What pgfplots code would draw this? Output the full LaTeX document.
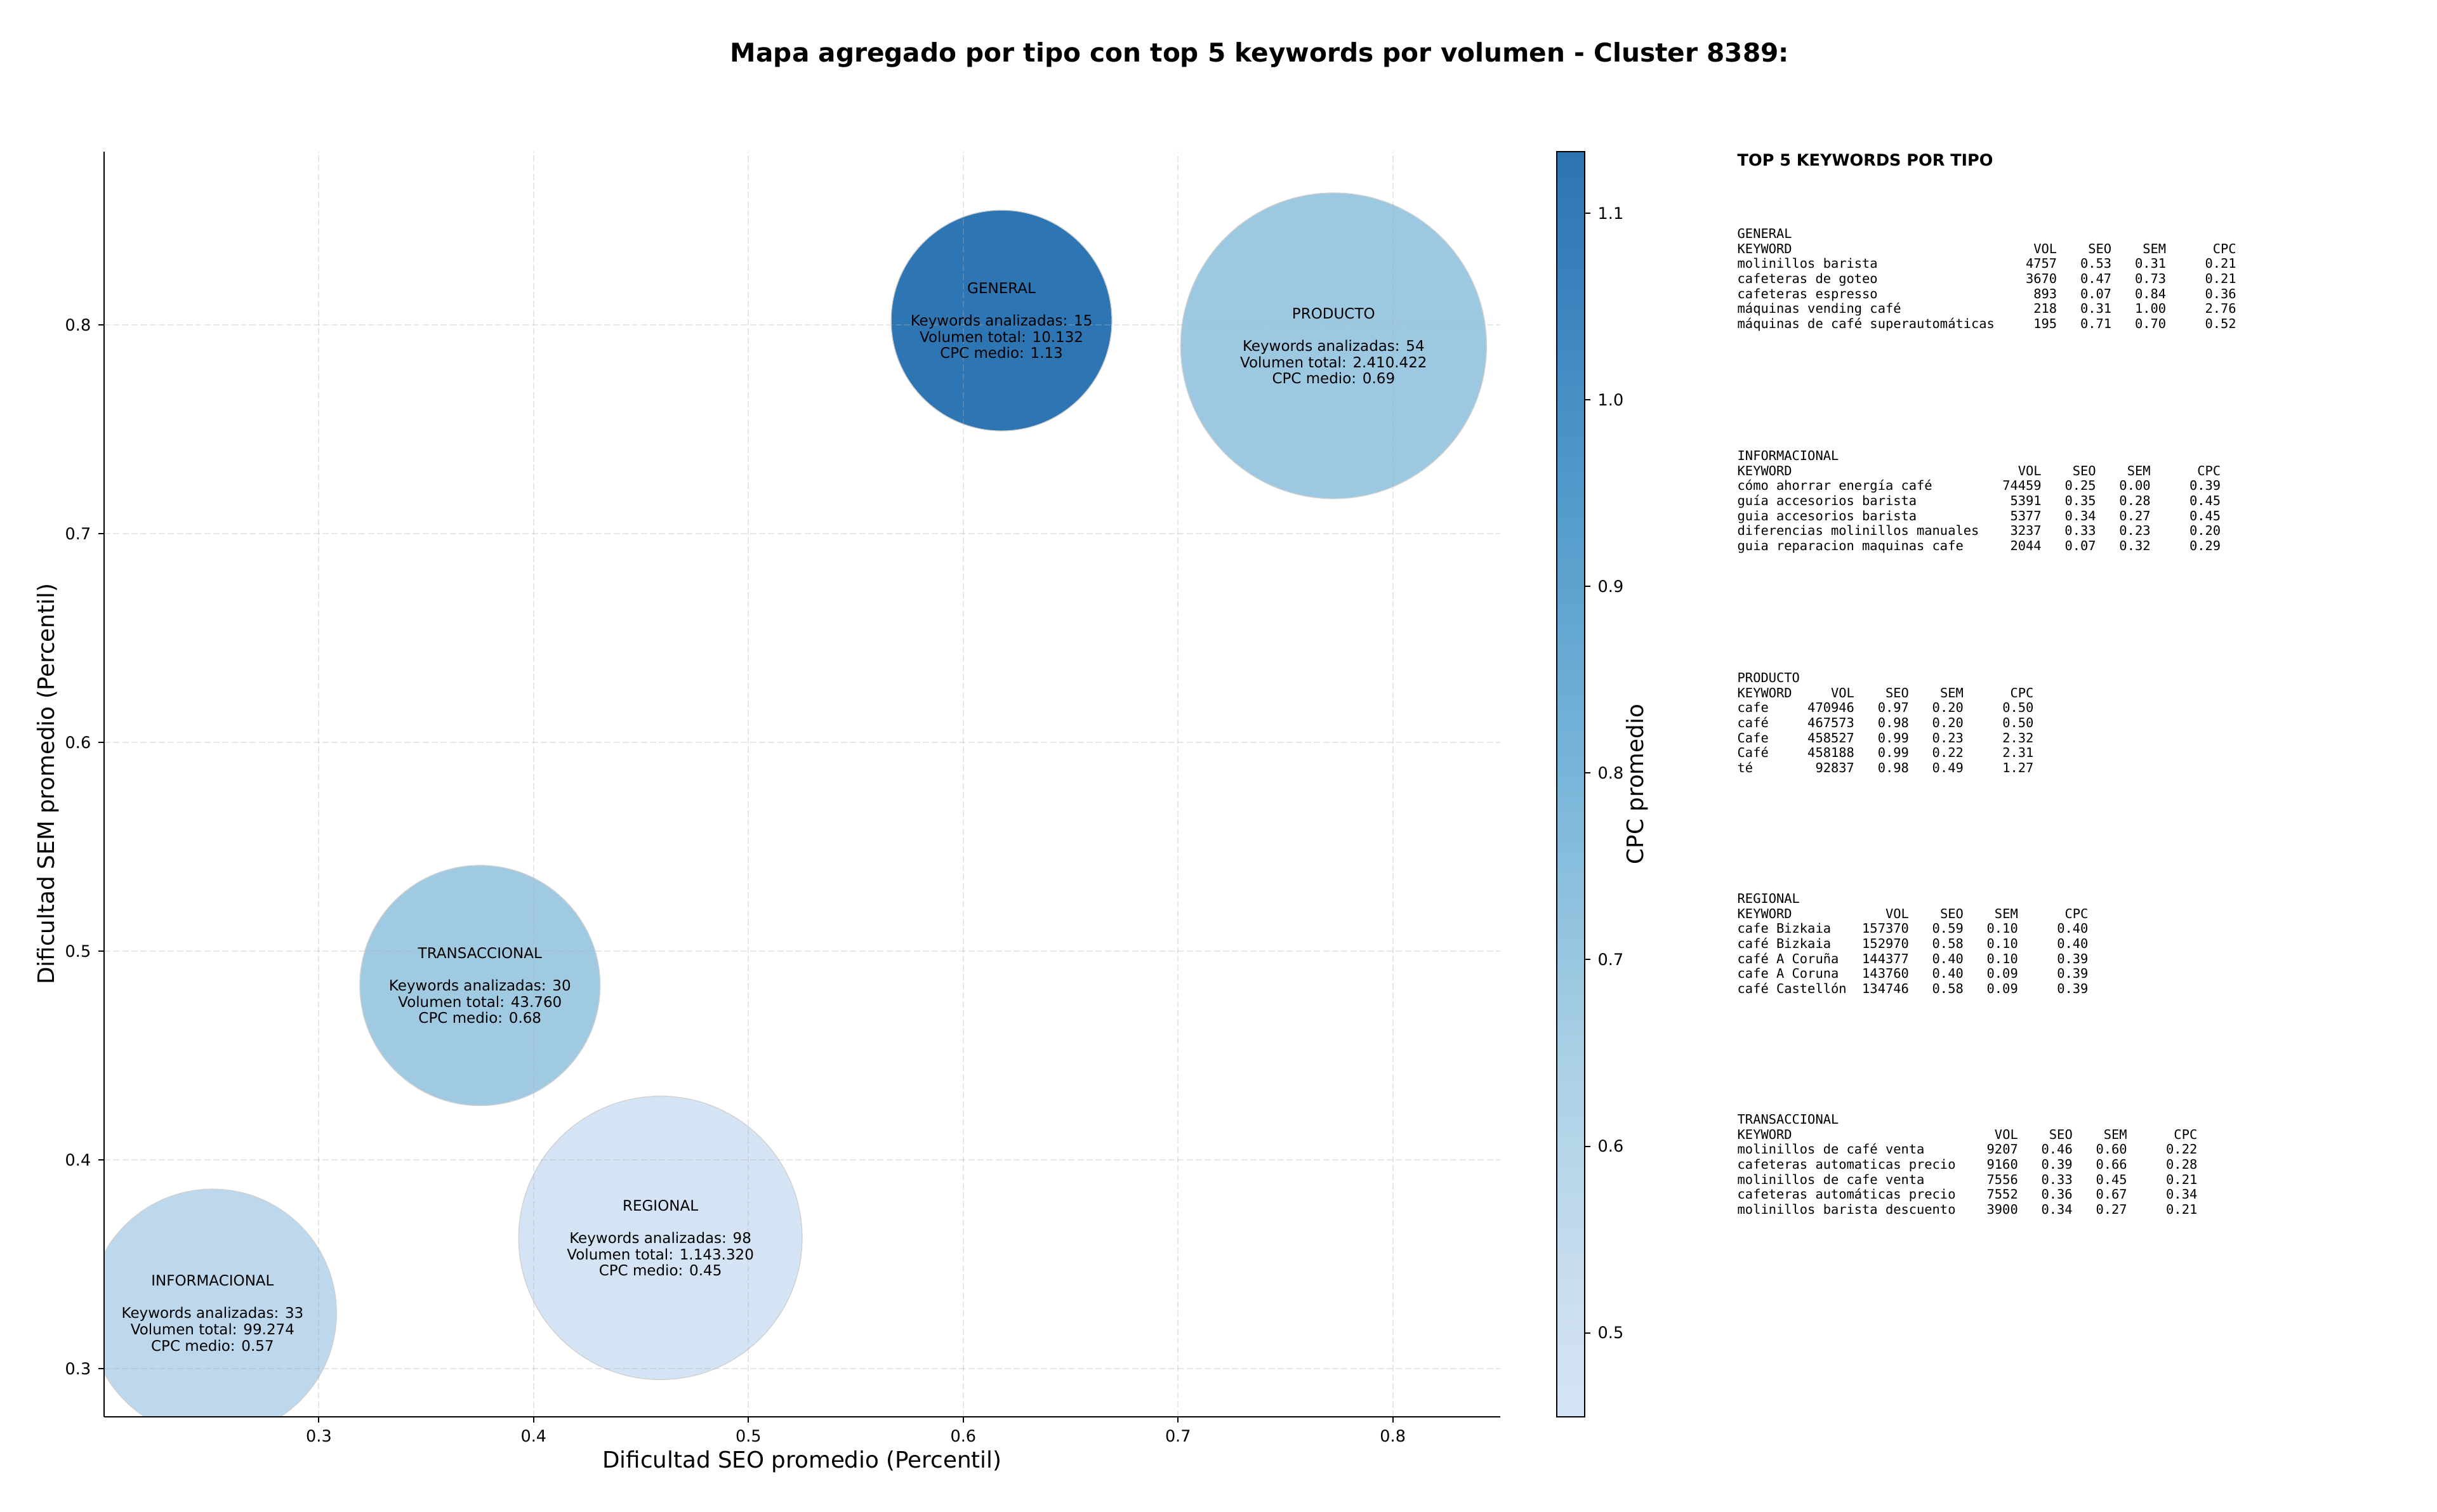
\documentclass[border=0pt]{standalone}
\usepackage{fontspec}
\setmainfont{DejaVu Sans}
\newfontfamily\monofont{DejaVu Sans Mono}
\usepackage{pgfplots}
\usepackage{pgfplotstable}
\pgfplotsset{compat=1.18}

% Blues (0.2..0.8), blended at alpha 0.9 over white
\pgfplotsset{
  colormap={cpcblues}{rgb255(0pt)=(212,228,244) rgb255(10pt)=(204,223,241)
    rgb255(35pt)=(168,207,228) rgb255(60pt)=(122,182,218) rgb255(85pt)=(85,157,204)
    rgb255(110pt)=(55,127,188) rgb255(120pt)=(46,116,179)},
  /pgf/number format/assume math mode=true,
  colorbar shift/.style={xshift=26.7bp},
}

\newcommand\tickfont{\fontsize{7.65bp}{9bp}\selectfont}
\newcommand\labfont{\fontsize{10.7bp}{12.5bp}\selectfont}
\newcommand\bubfont{\fontsize{6.9bp}{7.7bp}\selectfont}
\newcommand\tfont{\monofont\fontsize{6.12bp}{7.1bp}\selectfont}
\newlength\cw
\newcommand\row[6]{\makebox[#1\cw][l]{#2}\makebox[8\cw][r]{#3}\makebox[7\cw][r]{#4}\makebox[7\cw][r]{#5}\makebox[9\cw][r]{#6}}

% tipo, SEO medio, SEM medio, CPC medio, radio de la burbuja (bp)
\pgfplotstableread{
tipo           seo     sem     cpc   r
GENERAL        0.6178  0.8021  1.13  52.2
PRODUCTO       0.7724  0.7900  0.69  72.3
TRANSACCIONAL  0.3750  0.4836  0.68  56.8
REGIONAL       0.4590  0.3627  0.45  67.0
INFORMACIONAL  0.2505  0.3267  0.57  58.6
}\bubbles

\begin{document}
\settowidth{\cw}{\tfont 0}%
\begin{tikzpicture}
\path[use as bounding box] (-49.2bp,-45bp) rectangle (1102.8bp,669.9bp);
\begin{axis}[
  at={(0,0)}, anchor=south west,
  scale only axis, width=660bp, height=598.2bp,
  xmin=0.2, xmax=0.85, ymin=0.277, ymax=0.883,
  axis lines*=left,
  axis line style={-, line width=0.75bp, black},
  axis on top,
  clip marker paths=true,
  xtick={0.3,0.4,0.5,0.6,0.7,0.8},
  ytick={0.3,0.4,0.5,0.6,0.7,0.8},
  tick align=outside, major tick length=2.7bp,
  tick style={black, line width=0.6bp},
  tick label style={font=\tickfont},
  xticklabel style={/pgf/number format/fixed, /pgf/number format/precision=1},
  yticklabel style={/pgf/number format/fixed, /pgf/number format/precision=1},
  grid=major,
  major grid style={line width=0.6bp, color=black!31, opacity=0.3, dash pattern=on 3bp off 1.3bp},
  xlabel={Dificultad SEO promedio (Percentil)},
  ylabel={Dificultad SEM promedio (Percentil)},
  xlabel style={font=\labfont, at={(axis description cs:0.5,-0.0354)}, anchor=center},
  ylabel style={font=\labfont, at={(axis description cs:-0.04,0.5)}, anchor=center},
  colormap name=cpcblues,
  point meta min=0.455, point meta max=1.133,
  colorbar,
  colorbar style={
    at={(parent axis.north east)}, anchor=north west,
    scale only axis, width=13.2bp, height=598.2bp,
    ytick={0.5,0.6,0.7,0.8,0.9,1.0,1.1},
    ytick pos=right, yticklabel pos=right,
    tick align=outside, major tick length=2.7bp,
    tick style={black, line width=0.6bp},
    axis line style={line width=0.6bp, black},
    yticklabel style={font=\tickfont, /pgf/number format/fixed,
      /pgf/number format/precision=1, /pgf/number format/fixed zerofill},
    ylabel={CPC promedio},
    ylabel style={font=\labfont, at={(axis description cs:2.886,0.5)}, anchor=center},
  },
]
\addplot[scatter, only marks, mark=*, point meta=explicit,
  scatter/use mapped color={draw=black!18, fill=mapped color, line width=0.4bp},
  visualization depends on={\thisrow{r} \as \rad},
  scatter/@pre marker code/.append style={/tikz/mark size=\rad bp}]
  table[x=seo, y=sem, meta=cpc] {\bubbles};

\coordinate (cG) at (axis cs:0.6178,0.8021);
\coordinate (cP) at (axis cs:0.7724,0.7900);
\coordinate (cT) at (axis cs:0.3750,0.4836);
\coordinate (cR) at (axis cs:0.4590,0.3627);
\coordinate (cI) at (axis cs:0.2505,0.3267);
\end{axis}

% bubble labels, drawn above the grid
\node[align=center, font=\bubfont] at (cG)
  {GENERAL\\[7.7bp]Keywords analizadas: 15\\Volumen total: 10.132\\CPC medio: 1.13};
\node[align=center, font=\bubfont] at (cP)
  {PRODUCTO\\[7.7bp]Keywords analizadas: 54\\Volumen total: 2.410.422\\CPC medio: 0.69};
\node[align=center, font=\bubfont] at (cT)
  {TRANSACCIONAL\\[7.7bp]Keywords analizadas: 30\\Volumen total: 43.760\\CPC medio: 0.68};
\node[align=center, font=\bubfont] at (cR)
  {REGIONAL\\[7.7bp]Keywords analizadas: 98\\Volumen total: 1.143.320\\CPC medio: 0.45};
\node[align=center, font=\bubfont] at (cI)
  {INFORMACIONAL\\[7.7bp]Keywords analizadas: 33\\Volumen total: 99.274\\CPC medio: 0.57};

\node[anchor=base, font=\bfseries\fontsize{12.2bp}{14bp}\selectfont] at (546.3bp,640.5bp)
  {Mapa agregado por tipo con top 5 keywords por volumen - Cluster 8389:};

\node[anchor=west, inner sep=0pt, font=\bfseries\fontsize{7.65bp}{9bp}\selectfont] at (771.9bp,594.3bp)
  {TOP 5 KEYWORDS POR TIPO};

\node[anchor=north west, inner sep=0pt, align=left, font=\tfont] at (771.9bp,562.0bp) {GENERAL\\
\row{33}{KEYWORD}{VOL}{SEO}{SEM}{CPC}\\
\row{33}{molinillos barista}{4757}{0.53}{0.31}{0.21}\\
\row{33}{cafeteras de goteo}{3670}{0.47}{0.73}{0.21}\\
\row{33}{cafeteras espresso}{893}{0.07}{0.84}{0.36}\\
\row{33}{máquinas vending café}{218}{0.31}{1.00}{2.76}\\
\row{33}{máquinas de café superautomáticas}{195}{0.71}{0.70}{0.52}};

\node[anchor=north west, inner sep=0pt, align=left, font=\tfont] at (771.9bp,457.0bp) {INFORMACIONAL\\
\row{31}{KEYWORD}{VOL}{SEO}{SEM}{CPC}\\
\row{31}{cómo ahorrar energía café}{74459}{0.25}{0.00}{0.39}\\
\row{31}{guía accesorios barista}{5391}{0.35}{0.28}{0.45}\\
\row{31}{guia accesorios barista}{5377}{0.34}{0.27}{0.45}\\
\row{31}{diferencias molinillos manuales}{3237}{0.33}{0.23}{0.20}\\
\row{31}{guia reparacion maquinas cafe}{2044}{0.07}{0.32}{0.29}};

\node[anchor=north west, inner sep=0pt, align=left, font=\tfont] at (771.9bp,352.0bp) {PRODUCTO\\
\row{7}{KEYWORD}{VOL}{SEO}{SEM}{CPC}\\
\row{7}{cafe}{470946}{0.97}{0.20}{0.50}\\
\row{7}{café}{467573}{0.98}{0.20}{0.50}\\
\row{7}{Cafe}{458527}{0.99}{0.23}{2.32}\\
\row{7}{Café}{458188}{0.99}{0.22}{2.31}\\
\row{7}{té}{92837}{0.98}{0.49}{1.27}};

\node[anchor=north west, inner sep=0pt, align=left, font=\tfont] at (771.9bp,247.6bp) {REGIONAL\\
\row{14}{KEYWORD}{VOL}{SEO}{SEM}{CPC}\\
\row{14}{cafe Bizkaia}{157370}{0.59}{0.10}{0.40}\\
\row{14}{café Bizkaia}{152970}{0.58}{0.10}{0.40}\\
\row{14}{café A Coruña}{144377}{0.40}{0.10}{0.39}\\
\row{14}{cafe A Coruna}{143760}{0.40}{0.09}{0.39}\\
\row{14}{café Castellón}{134746}{0.58}{0.09}{0.39}};

\node[anchor=north west, inner sep=0pt, align=left, font=\tfont] at (771.9bp,143.2bp) {TRANSACCIONAL\\
\row{28}{KEYWORD}{VOL}{SEO}{SEM}{CPC}\\
\row{28}{molinillos de café venta}{9207}{0.46}{0.60}{0.22}\\
\row{28}{cafeteras automaticas precio}{9160}{0.39}{0.66}{0.28}\\
\row{28}{molinillos de cafe venta}{7556}{0.33}{0.45}{0.21}\\
\row{28}{cafeteras automáticas precio}{7552}{0.36}{0.67}{0.34}\\
\row{28}{molinillos barista descuento}{3900}{0.34}{0.27}{0.21}};
\end{tikzpicture}
\end{document}
